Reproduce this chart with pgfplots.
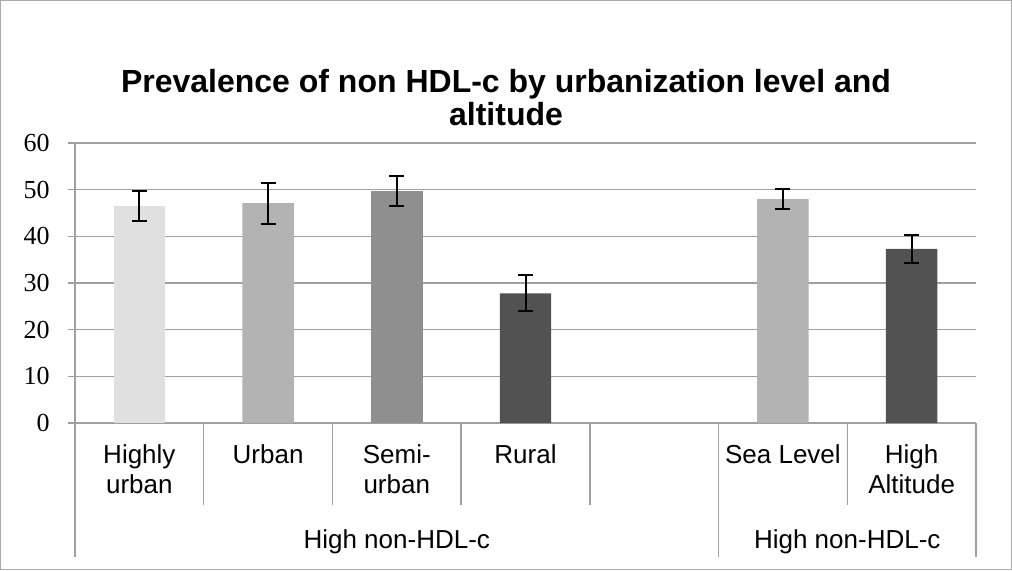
\documentclass[border=0pt]{standalone}
\usepackage{pgfplots}
\pgfplotsset{compat=1.18}
\usepackage{fontspec}
\setmainfont{Liberation Sans}
\newfontfamily\serifnum{Liberation Serif}
\definecolor{gridc}{RGB}{160,160,160}
\definecolor{frc}{RGB}{170,170,170}
\definecolor{c1}{RGB}{224,224,224}
\definecolor{c2}{RGB}{179,179,179}
\definecolor{c3}{RGB}{143,143,143}
\definecolor{c4}{RGB}{82,82,82}
\begin{document}
\begin{tikzpicture}
\useasboundingbox (0,0) rectangle (506pt,285pt);
\draw[frc, line width=0.6pt] (0.3pt,0.3pt) rectangle (505.7pt,284.7pt);
\node[align=center, font={\bfseries\fontsize{16}{16.5}\selectfont}] at (253pt,236pt)
  {Prevalence of non HDL-c by urbanization level and\\altitude};
\begin{axis}[
  at={(37.5pt,73.5pt)}, anchor=south west,
  scale only axis, width=450.5pt, height=140pt,
  xmin=-0.5, xmax=6.5, ymin=0, ymax=60,
  ytick={0,10,...,60},
  xtick={0,1,2,3,4,5,6},
  xticklabels={{Highly\\urban},{Urban},{Semi-\\urban},{Rural},{},{Sea Level},{High\\Altitude}},
  xticklabel style={align=center, anchor=north, inner sep=0pt, yshift=-7pt,
    font={\fontsize{13}{15}\selectfont}},
  /pgf/number format/assume math mode=true,
  yticklabel style={font={\serifnum\fontsize{13}{13}\selectfont}, inner sep=0pt, xshift=-9pt},
  axis lines*=left,
  axis line style={gridc, line width=0.75pt, -},
  ymajorgrids, grid style={gridc, line width=0.75pt},
  tick align=outside,
  x tick style={draw=none},
  y tick style={gridc, line width=0.75pt},
  major tick length=3.5pt,
  ybar, bar width=0.4,
  clip=false,
  error bars/y dir=both, error bars/y explicit,
  error bars/error bar style={black, line width=1pt},
  error bars/error mark options={black, line width=1pt, rotate=90, mark size=3.75pt},
]
\addplot[fill=c1, draw=none, bar shift=0pt] coordinates {(0,46.5) +- (0,3.15)};
\addplot[fill=c2, draw=none, bar shift=0pt] coordinates {(1,47.1) +- (0,4.4) (5,48.0) +- (0,2.2)};
\addplot[fill=c3, draw=none, bar shift=0pt] coordinates {(2,49.7) +- (0,3.15)};
\addplot[fill=c4, draw=none, bar shift=0pt] coordinates {(3,27.8) +- (0,3.9) (6,37.3) +- (0,3.0)};
\foreach \xx in {-0.5,0.5,1.5,2.5,3.5,4.5,5.5,6.5} {
  \edef\tmp{\noexpand\draw[gridc, line width=0.75pt] (axis cs:\xx,0) -- ++(0pt,-41pt);}
  \tmp
}
\foreach \xx in {-0.5,4.5,6.5} {
  \edef\tmp{\noexpand\draw[gridc, line width=0.75pt] (axis cs:\xx,0) ++(0pt,-41pt) -- ++(0pt,-26pt);}
  \tmp
}
\node[anchor=base, font={\fontsize{13}{15}\selectfont}] at ([yshift=-62.5pt]axis cs:2,0) {High non-HDL-c};
\node[anchor=base, font={\fontsize{13}{15}\selectfont}] at ([yshift=-62.5pt]axis cs:5.5,0) {High non-HDL-c};
\end{axis}
\end{tikzpicture}
\end{document}
